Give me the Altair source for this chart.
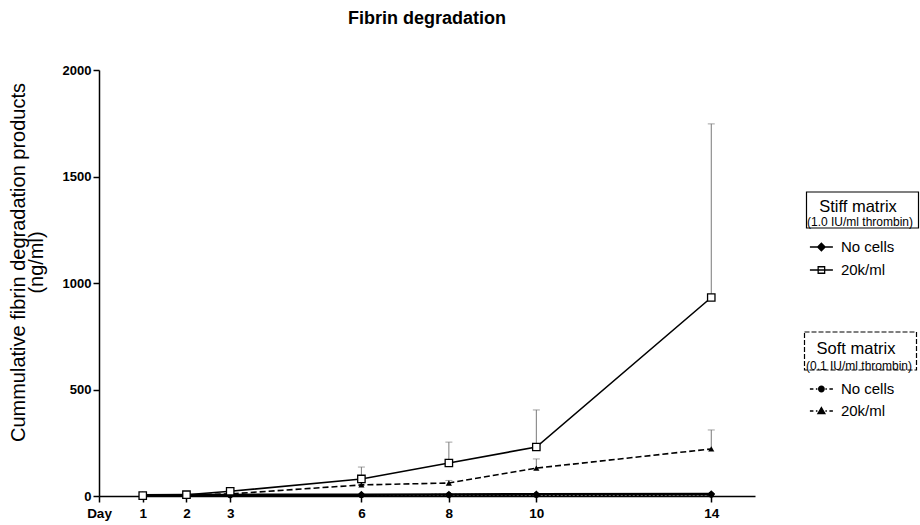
import altair as alt
import pandas as pd

# ---- data ----
days = [1, 2, 3, 6, 8, 10, 14]
stiff_nocells = [3, 4, 5, 6, 7, 8, 9]
stiff_nocells_sd = [1, 1, 1, 2, 2, 2, 2]
stiff_20k = [2, 6, 22, 80, 155, 230, 932]
stiff_20k_sd = [2, 4, 10, 56, 98, 174, 815]
soft_nocells = [2, 3, 3, 4, 5, 5, 6]
soft_nocells_sd = [1, 1, 1, 1, 1, 2, 2]
soft_20k = [1, 4, 10, 52, 61, 131, 221]
soft_20k_sd = [1, 2, 4, 10, 12, 43, 89]

x_ticks = [0, 1, 2, 3, 6, 8, 10, 14]
y_ticks = [0, 500, 1000, 1500, 2000]
cells_levels = ["No cells", "20k/ml"]
stiff_title = "Stiff matrix"
stiff_sub = "(1.0 IU/ml thrombin)"
soft_title = "Soft matrix"
soft_sub = "(0.1 IU/ml thrombin)"

FONT = "Liberation Sans"

series = [
    ("stiff_no", "Stiff", "No cells", stiff_nocells, stiff_nocells_sd),
    ("stiff_20k", "Stiff", "20k/ml", stiff_20k, stiff_20k_sd),
    ("soft_no", "Soft", "No cells", soft_nocells, soft_nocells_sd),
    ("soft_20k", "Soft", "20k/ml", soft_20k, soft_20k_sd),
]
rows = []
for key, matrix, cells, vals, sds in series:
    for d, v, s in zip(days, vals, sds):
        rows.append({"key": key, "matrix": matrix, "cells": cells, "day": d, "value": v, "sd": s})
df = pd.DataFrame(rows)

x_enc = alt.X(
    "day:Q",
    scale=alt.Scale(domain=[0, 15], nice=False, zero=True),
    axis=alt.Axis(
        values=x_ticks, title=None, grid=False,
        labelExpr="datum.value == 0 ? 'Day' : datum.label",
        tickSize=6, labelPadding=4, labelFontSize=13.5, labelFontWeight="bold",
        labelFont=FONT, labelColor="black", labelFlush=False,
        domainColor="black", domainWidth=1.5, tickColor="black", tickWidth=1.5,
    ),
)
y_enc = alt.Y(
    "value:Q",
    scale=alt.Scale(domain=[0, 2000], nice=False),
    axis=alt.Axis(
        values=y_ticks, grid=False, format="d",
        title=["Cummulative fibrin degradation products", "(ng/ml)"],
        titleFont=FONT, titleFontSize=20, titleFontWeight="normal", titleColor="black",
        titleX=-81, titleY=192, titleBaseline="middle", titleAlign="center",
        titleAngle=270, titleLineHeight=18,
        tickSize=6, labelPadding=2, labelFontSize=13, labelFontWeight="bold",
        labelFont=FONT, labelColor="black",
        domainColor="black", domainWidth=1.5, tickColor="black", tickWidth=1.5,
    ),
)

base = alt.Chart(df).encode(x=x_enc)

err = base.transform_calculate(upper="datum.value + datum.sd")
rules = err.mark_rule(color="#7a7a7a", strokeWidth=1).encode(y=y_enc, y2="upper:Q")
caps = err.mark_tick(color="#7a7a7a", thickness=1, size=7, orient="horizontal").encode(
    y=alt.Y("upper:Q")
)


def sel(key):
    return base.transform_filter(alt.datum.key == key)


line_stiff_no = sel("stiff_no").mark_line(color="black", strokeWidth=2.6).encode(y="value:Q")
line_stiff_20k = sel("stiff_20k").mark_line(color="black", strokeWidth=1.6).encode(y="value:Q")
line_soft_no = sel("soft_no").mark_line(color="black", strokeWidth=2.2, strokeDash=[2, 2]).encode(y="value:Q")
line_soft_20k = sel("soft_20k").mark_line(color="black", strokeWidth=1.6, strokeDash=[6, 3]).encode(y="value:Q")

pt_stiff_no = sel("stiff_no").mark_point(shape="diamond", filled=True, color="black", size=60, opacity=1).encode(y="value:Q")
pt_stiff_20k = sel("stiff_20k").mark_point(shape="square", fill="white", stroke="black", strokeWidth=1.3, size=55, opacity=1).encode(y="value:Q")
pt_soft_no = sel("soft_no").mark_point(shape="circle", filled=True, color="black", size=34, opacity=1).encode(y="value:Q")
pt_soft_20k = sel("soft_20k").mark_point(shape="triangle-up", filled=True, color="black", size=38, opacity=1).encode(y="value:Q")

# legend symbols: short line with marker (custom SVG paths)
P_DIAMOND = "M-2.3,0H2.3M0,-0.75L0.75,0L0,0.75L-0.75,0Z"
P_SQUARE = "M-2.3,0H2.3M-0.65,-0.65H0.65V0.65H-0.65Z"
P_CIRCLE = ("M-2.3,0H-1.6M1.6,0H2.3M-1.1,0H-0.8M0.8,0H1.1"
            "M-0.55,0A0.55,0.55,0,1,0,0.55,0A0.55,0.55,0,1,0,-0.55,0Z")
P_TRIANGLE = "M-2.3,0H-1.6M1.6,0H2.3M-1.1,0H-0.8M0.8,0H1.1M0,-0.7L0.7,0.5L-0.7,0.5Z"

# boxes around the legend headings (drawn as the heading legend's symbol)
BOX_STIFF = "M5.5,-29.5H117.5V6.5H5.5Z"
BOX_SOFT = "M4.5,-33.5H116.5V4.5H4.5Z"

legend_cells = pd.DataFrame({"cells": cells_levels})


def entries_layer(lx, ly, rowpad, paths, fills):
    leg = alt.Legend(
        title=None, orient="none", legendX=lx, legendY=ly, padding=0,
        symbolSize=100, labelOffset=12, rowPadding=rowpad,
        labelFont=FONT, labelFontSize=15, labelColor="black",
        symbolStrokeWidth=1.3, symbolStrokeColor="black", symbolOpacity=1,
    )
    return alt.Chart(legend_cells).mark_point(opacity=0, strokeWidth=1.3).encode(
        shape=alt.Shape("cells:N", scale=alt.Scale(domain=cells_levels, range=paths), legend=leg),
        fill=alt.Fill("cells:N", scale=alt.Scale(domain=cells_levels, range=fills), legend=leg),
        stroke=alt.Stroke("cells:N", scale=alt.Scale(domain=cells_levels, range=["black", "black"]), legend=leg),
    )


def heading_layer(title, sub, lx, ly, tpad, box, dash):
    kw = dict(
        title=title, orient="none", legendX=lx, legendY=ly, padding=0,
        symbolType=box, symbolSize=4, symbolStrokeWidth=1.2, symbolStrokeColor="black",
        symbolFillColor="transparent", symbolOpacity=1, labelOffset=0,
        titleFont=FONT, titleFontSize=16.5, titleFontWeight="normal", titleColor="black",
        titleAnchor="middle", titleAlign="center", titlePadding=tpad,
        labelFont=FONT, labelFontSize=12, labelColor="black",
    )
    if dash:
        kw["symbolDash"] = dash
    return alt.Chart(pd.DataFrame({"sub": [sub]})).mark_point(opacity=0).encode(
        color=alt.Color("sub:N", scale=alt.Scale(range=["black"]), legend=alt.Legend(**kw))
    )


ent_stiff = entries_layer(714.9, 169.5, 7, [P_DIAMOND, P_SQUARE], ["black", "white"])
ent_soft = entries_layer(714.9, 311.5, 6, [P_CIRCLE, P_TRIANGLE], ["black", "black"])
head_stiff = heading_layer(stiff_title, stiff_sub, 696, 129, 0, BOX_STIFF, None)
head_soft = heading_layer(soft_title, soft_sub, 695, 271, 2, BOX_SOFT, [5, 2])

chart = alt.layer(
    rules, caps,
    line_soft_20k, line_soft_no, line_stiff_20k, line_stiff_no,
    pt_soft_no, pt_soft_20k, pt_stiff_no, pt_stiff_20k,
    ent_stiff, ent_soft, head_stiff, head_soft,
).resolve_scale(
    shape="independent", fill="independent", stroke="independent", color="independent"
).properties(
    width=656, height=426,
    padding={"left": 99, "top": 70, "right": 165, "bottom": 29},
    autosize=alt.AutoSizeParams(type="none"),
    title=alt.TitleParams("Fibrin degradation", font=FONT, fontSize=18, fontWeight="bold",
                          color="black", anchor="middle", frame="group", offset=22,
                          baseline="alphabetic"),
    background="white",
).configure_view(strokeWidth=0)

chart.save("out.html", embed_options={"renderer": "svg", "actions": False})
